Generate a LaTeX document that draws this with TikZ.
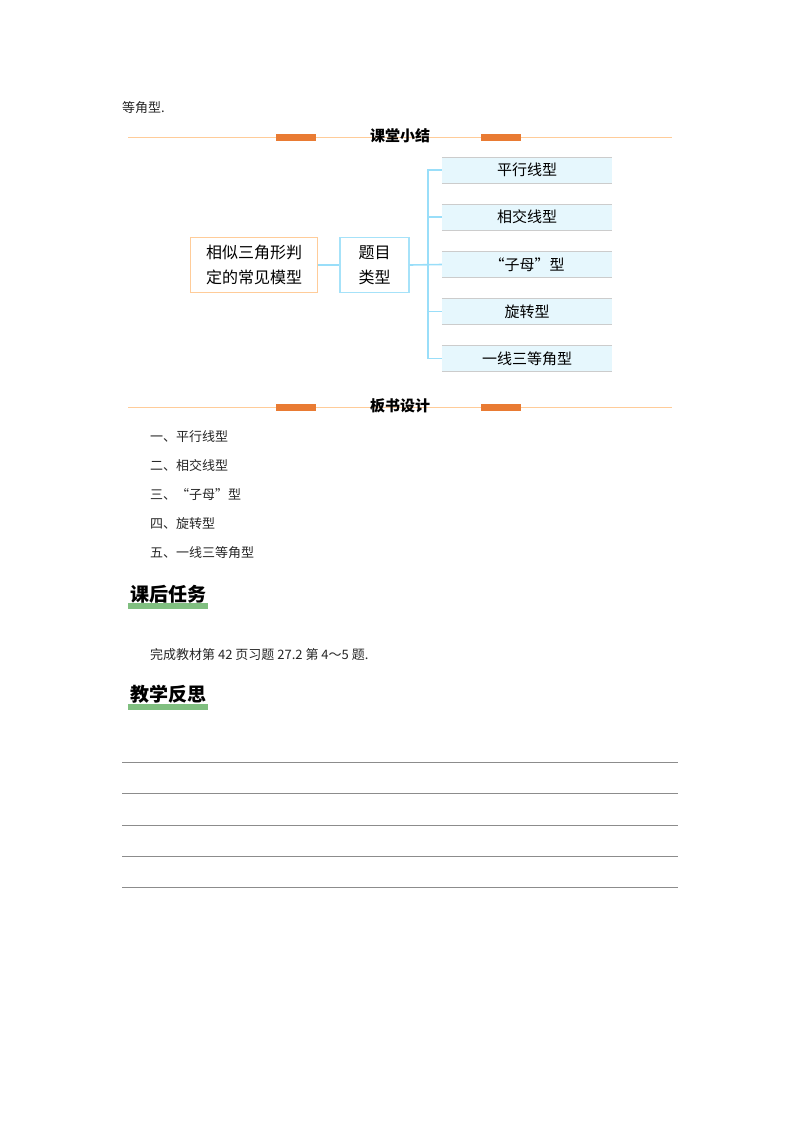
\documentclass[tikz,border=0pt]{standalone}
\usepackage{fontspec}
\setmainfont{Liberation Serif}
\newfontfamily\cjk{Noto Sans CJK SC}
\definecolor{obarc}{HTML}{E97B33}
\begin{document}
\begin{tikzpicture}[x=1pt,y=-1pt,
  body/.style={anchor=west,inner sep=0pt,font=\cjk\fontsize{13}{15}\selectfont,text=black!85},
  head/.style={inner sep=0pt,font=\cjk\bfseries\fontsize{15}{17}\selectfont},
  bighead/.style={anchor=west,inner sep=0pt,font=\cjk\bfseries\fontsize{19}{21}\selectfont},
  rbox/.style={minimum width=170pt,minimum height=26pt,fill=cyan!10,inner sep=0pt,font=\cjk\fontsize{15}{17}\selectfont},
  conn/.style={draw=cyan!40,line width=1.6pt},
  obar/.style={fill=obarc,draw=none},
  gbar/.style={fill=green!50!black!50,draw=none}]
\useasboundingbox (0,0) rectangle (800,1132);
\node[body] (t0) at (122,108) {等角型.};
% header 1
\draw[orange!40,line width=0.8pt] (128,137) -- (672,137);
\fill[obar] (276,133.5) rectangle (316,140.5);
\fill[obar] (481,133.5) rectangle (521,140.5);
\node[head] (h1) at (400,136) {课堂小结};
% boxes
\node[draw=orange!40,line width=1.5pt,minimum width=127pt,minimum height=55pt,align=center,font=\cjk\fontsize{16}{25}\selectfont] (L) at (254,265) {相似三角形判\\定的常见模型};
\node[draw=cyan!35,line width=1.5pt,minimum width=69pt,minimum height=55pt,align=center,font=\cjk\fontsize{16}{25}\selectfont] (M) at (374.5,265) {题目\\类型};
\node[rbox] (r1) at (527,170) {平行线型};
\node[rbox] (r2) at (527,217) {相交线型};
\node[rbox] (r3) at (527,264.5) {“子母”型};
\node[rbox] (r4) at (527,311.5) {旋转型};
\node[rbox] (r5) at (527,358.5) {一线三等角型};
\foreach \r in {r1,r2,r3,r4,r5}{
  \draw[black!20,line width=0.6pt] (\r.north west) -- (\r.north east);
  \draw[black!20,line width=0.6pt] (\r.south west) -- (\r.south east);}
\draw[conn] (L.east) -- (M.west);
\draw[conn] (M.east) -- (r3.west);
\draw[conn] (r1.west) -| (428,265) |- (r5.west);
\draw[conn] (428,217) -- (r2.west);
\draw[conn] (428,311.5) -- (r4.west);
% header 2
\draw[orange!40,line width=0.8pt] (128,407) -- (672,407);
\fill[obar] (276,403.5) rectangle (316,410.5);
\fill[obar] (481,403.5) rectangle (521,410.5);
\node[head] (h2) at (400,406) {板书设计};
\node[body] (a1) at (150,437) {一、平行线型};
\node[body] (a2) at (150,466) {二、相交线型};
\node[body] (a3) at (150,495) {三、“子母”型};
\node[body] (a4) at (150,524) {四、旋转型};
\node[body] (a5) at (150,553) {五、一线三等角型};
% tasks
\fill[gbar] (128,603) rectangle (208,609);
\node[bighead] (k1) at (130,594) {课后任务};
\node[body] (k2) at (150,655) {完成教材第 42 页习题 27.2 第 4～5 题.};
\fill[gbar] (128,704) rectangle (208,710);
\node[bighead] (k3) at (130,694) {教学反思};
\foreach \y in {762,793,825,856,887}
  \draw[black!45,line width=0.7pt] (122,\y) -- (678,\y);
\end{tikzpicture}
\end{document}
